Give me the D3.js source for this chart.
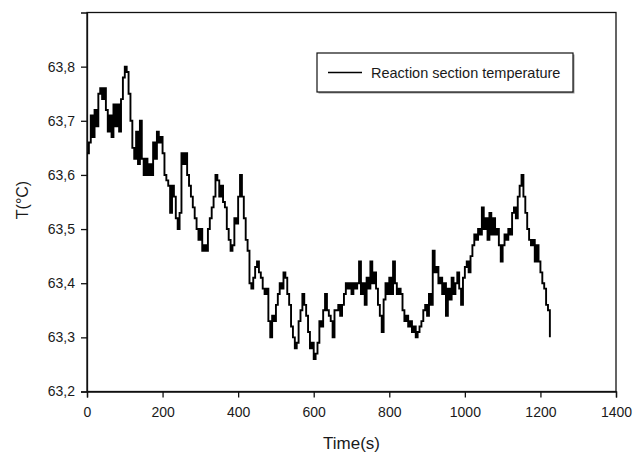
<!DOCTYPE html>
<html>
<head>
<meta charset="utf-8">
<script src="https://cdn.jsdelivr.net/npm/d3@7"></script>
<style>
  body { margin: 0; background: #fff; }
  svg text { font-family: "Liberation Sans", Arial, sans-serif; fill: #1a1a1a; }
</style>
</head>
<body>
<div id="chart-div"></div>
<script>
// Readings taken every 5 s, starting at t = 0
const SAMPLE_STEP = 5;
const temperature = [
  63.64, 63.66, 63.71, 63.67, 63.72, 63.69, 63.75, 63.76, 63.74, 63.76,
  63.72, 63.68, 63.71, 63.67, 63.73, 63.69, 63.73, 63.68, 63.74, 63.78,
  63.80, 63.79, 63.75, 63.70, 63.65, 63.63, 63.68, 63.62, 63.70, 63.63,
  63.60, 63.63, 63.60, 63.62, 63.60, 63.66, 63.63, 63.68, 63.66, 63.67,
  63.64, 63.60, 63.59, 63.58, 63.53, 63.58, 63.56, 63.52, 63.50, 63.53,
  63.64, 63.62, 63.64, 63.60, 63.58, 63.56, 63.54, 63.52, 63.50, 63.48,
  63.50, 63.46, 63.47, 63.46, 63.50, 63.52, 63.54, 63.56, 63.60, 63.59,
  63.56, 63.58, 63.55, 63.54, 63.50, 63.48, 63.46, 63.47, 63.52, 63.51,
  63.56, 63.60, 63.56, 63.52, 63.48, 63.46, 63.40, 63.39, 63.41, 63.43,
  63.44, 63.42, 63.41, 63.39, 63.38, 63.39, 63.33, 63.30, 63.34, 63.33,
  63.36, 63.38, 63.40, 63.39, 63.42, 63.41, 63.38, 63.36, 63.32, 63.30,
  63.28, 63.29, 63.33, 63.35, 63.38, 63.36, 63.34, 63.31, 63.28, 63.29,
  63.26, 63.27, 63.29, 63.33, 63.32, 63.35, 63.38, 63.35, 63.34, 63.33,
  63.30, 63.35, 63.35, 63.36, 63.34, 63.36, 63.38, 63.40, 63.39, 63.40,
  63.38, 63.40, 63.39, 63.40, 63.44, 63.38, 63.40, 63.36, 63.41, 63.39,
  63.44, 63.40, 63.42, 63.39, 63.36, 63.34, 63.31, 63.37, 63.40, 63.38,
  63.41, 63.38, 63.44, 63.40, 63.38, 63.39, 63.38, 63.35, 63.33, 63.34,
  63.32, 63.33, 63.31, 63.32, 63.30, 63.31, 63.32, 63.33, 63.35, 63.36,
  63.34, 63.38, 63.36, 63.46, 63.42, 63.43, 63.40, 63.41, 63.38, 63.40,
  63.34, 63.39, 63.37, 63.41, 63.38, 63.40, 63.42, 63.39, 63.36, 63.41,
  63.43, 63.44, 63.42, 63.45, 63.47, 63.49, 63.48, 63.50, 63.49, 63.54,
  63.50, 63.52, 63.48, 63.53, 63.49, 63.52, 63.49, 63.50, 63.47, 63.44,
  63.47, 63.49, 63.48, 63.50, 63.49, 63.53, 63.54, 63.52, 63.56, 63.58,
  63.60, 63.56, 63.53, 63.50, 63.48, 63.47, 63.48, 63.44, 63.47, 63.44,
  63.42, 63.40, 63.39, 63.36, 63.35, 63.30
];
const xTicks = [0, 200, 400, 600, 800, 1000, 1200, 1400];
const yTicks = [63.2, 63.3, 63.4, 63.5, 63.6, 63.7, 63.8];
const seriesName = "Reaction section temperature";

const WIDTH = 633;
const HEIGHT = 455;
const PLOT = { left: 87, right: 616, top: 12.5, bottom: 391.5 };

const svg = d3.select("#chart-div")
  .append("svg")
  .attr("width", WIDTH)
  .attr("height", HEIGHT);

const x = d3.scaleLinear().domain([0, 1400]).range([PLOT.left, PLOT.right]);
const y = d3.scaleLinear().domain([63.2, 63.9]).range([PLOT.bottom, PLOT.top]);

const fmt = d => d3.format(".1f")(d).replace(".", ",");

// frame
svg.append("rect")
  .attr("x", PLOT.left).attr("y", PLOT.top)
  .attr("width", PLOT.right - PLOT.left)
  .attr("height", PLOT.bottom - PLOT.top)
  .attr("fill", "none").attr("stroke", "#111").attr("stroke-width", 1.3);

// X axis
const xAxis = svg.append("g")
  .attr("transform", "translate(0," + PLOT.bottom + ")")
  .call(d3.axisBottom(x).tickValues(xTicks).tickSize(6).tickPadding(10).tickFormat(d3.format("d")));
xAxis.select(".domain").attr("stroke", "#111").attr("stroke-width", 1.3);
xAxis.selectAll(".tick line").attr("stroke", "#111").attr("stroke-width", 1.3);
xAxis.selectAll("text").style("font-size", "14px").attr("fill", "#1a1a1a");

// Y axis
const yAxis = svg.append("g")
  .attr("transform", "translate(" + PLOT.left + ",0)")
  .call(d3.axisLeft(y).tickValues(yTicks).tickSize(6).tickPadding(6).tickFormat(fmt));
yAxis.select(".domain").attr("stroke", "#111").attr("stroke-width", 1.3);
yAxis.selectAll(".tick line").attr("stroke", "#111").attr("stroke-width", 1.3);
yAxis.selectAll("text").style("font-size", "14px").attr("fill", "#1a1a1a");

// series
const points = temperature.map((v, i) => ({ t: i * SAMPLE_STEP, v: v }));
const line = d3.line()
  .x(d => x(d.t))
  .y(d => y(d.v))
  .curve(d3.curveStepAfter);

svg.append("path")
  .datum(points)
  .attr("fill", "none")
  .attr("stroke", "#000")
  .attr("stroke-width", 1.9)
  .attr("d", line);

// axis titles
svg.append("text")
  .attr("x", (PLOT.left + PLOT.right) / 2 + 0)
  .attr("y", 449)
  .attr("text-anchor", "middle")
  .style("font-size", "17px")
  .text("Time(s)");

svg.append("text")
  .attr("transform", "translate(28," + 200 + ") rotate(-90)")
  .attr("text-anchor", "middle")
  .style("font-size", "16px")
  .text("T(°C)");

// legend
const legend = svg.append("g");
legend.append("rect")
  .attr("x", 318.5).attr("y", 54.5).attr("width", 256).attr("height", 39)
  .attr("fill", "#999");
legend.append("rect")
  .attr("x", 317).attr("y", 53).attr("width", 256).attr("height", 39)
  .attr("fill", "#fff").attr("stroke", "#111").attr("stroke-width", 1.2);
legend.append("line")
  .attr("x1", 328).attr("x2", 362).attr("y1", 72.5).attr("y2", 72.5)
  .attr("stroke", "#000").attr("stroke-width", 1.3);
legend.append("text")
  .attr("x", 371).attr("y", 77.5)
  .style("font-size", "14.5px")
  .text(seriesName);
</script>
</body>
</html>
